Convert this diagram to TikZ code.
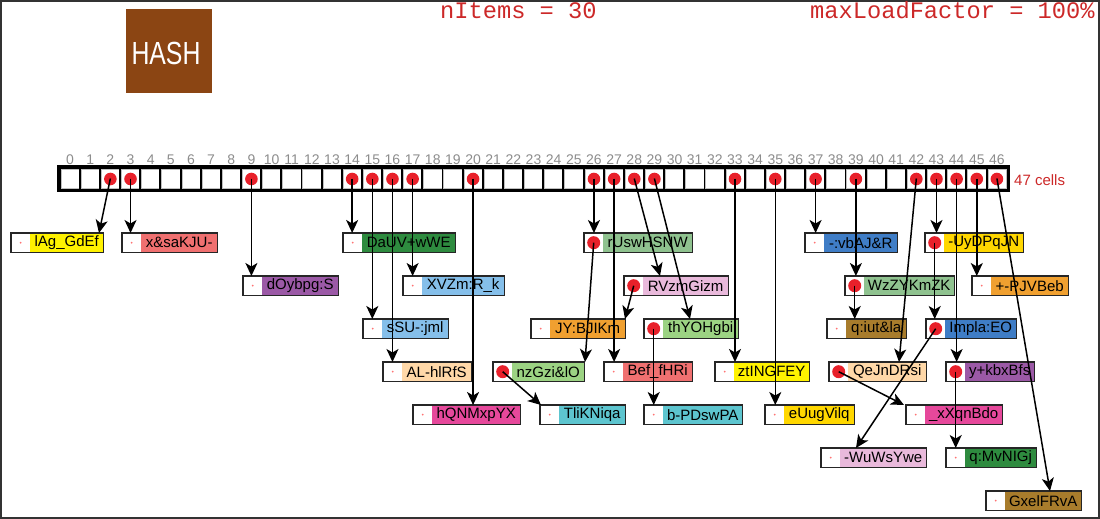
\documentclass[tikz,border=0pt]{standalone}
\usepackage{fontspec}
\setmainfont{Liberation Sans}
\newfontfamily\hdrmono{Liberation Mono}
\usetikzlibrary{arrows.meta,calc}
\definecolor{cYel}{HTML}{FFF200}
\definecolor{cGold}{HTML}{FFD700}
\definecolor{cSalmon}{HTML}{F07070}
\definecolor{cPurple}{HTML}{9B59A6}
\definecolor{cDGreen}{HTML}{2E8B3F}
\definecolor{cLBlue}{HTML}{85BFEA}
\definecolor{cPeach}{HTML}{FFD8A8}
\definecolor{cMagenta}{HTML}{E6489B}
\definecolor{cMGreen}{HTML}{8FC28F}
\definecolor{cLPink}{HTML}{E9B9DB}
\definecolor{cOrange}{HTML}{F0A030}
\definecolor{cLGreen}{HTML}{9CD383}
\definecolor{cCyan}{HTML}{5DC5CF}
\definecolor{cBlue}{HTML}{3F7DC6}
\definecolor{cBrown}{HTML}{A87C2C}
\definecolor{hashBrown}{HTML}{8B4513}
\definecolor{hdrRed}{HTML}{CC2828}
\definecolor{dotRed}{HTML}{E8202A}
\definecolor{idxGrey}{HTML}{8C8C8C}
\tikzset{
  txtpart/.style={inner sep=0pt, minimum height=19pt, anchor=north west, font=\fontsize{15}{15}\selectfont, text=black},
  ptrpart/.style={fill=white, inner sep=0pt, minimum height=19pt, minimum width=19pt, anchor=north west},
  boxline/.style={draw=black!85, line width=1.8pt},
  arr/.style={-{Stealth[length=13pt,width=12pt,inset=3.5pt]}, line width=1.5pt, black},
  cellbox/.style={draw=black, line width=2.5pt, fill=white, minimum width=20.149pt, minimum height=21pt, inner sep=0pt},
  idxlabel/.style={font=\fontsize{14}{14}\selectfont, text=idxGrey, inner sep=0pt},
  hdr/.style={font=\hdrmono\fontsize{23.7}{24}\selectfont, text=hdrRed, inner sep=0pt, anchor=base west},
}
\newcommand\hashitem[7]{%
  \node[ptrpart] (#1p) at (#2,#3) {};
  \pgfmathsetmacro\hiw{#4-#2-19}%
  \node[txtpart, fill=#5, minimum width=\hiw pt] (#1) at (#2+19,#3) {#6};
  \draw[boxline] (#1p.north west) rectangle (#1.south east);
  \ifnum#7=1 \fill[dotRed] (#1p.center) circle (6.5pt);\else\fill[red!55] (#1p.center) circle (1pt);\fi
}
\begin{document}
\begin{tikzpicture}[x=1pt,y=-1pt]
\useasboundingbox (0,0) rectangle (1100,519);
\draw[black!80, line width=2pt] (1,1) rectangle (1099,518);
% header
\node[fill=hashBrown, minimum width=86pt, minimum height=84pt, inner sep=0pt] (hash) at (169,51) {};
\node[text=white, inner sep=0pt] (hashtext) at ($(hash.center)+(-3,2.5)$)
  {\scalebox{0.776}[1]{\fontsize{32}{32}\selectfont HASH}};
\node[hdr] (nitems) at (440,19) {nItems = 30};
\node[hdr] (maxlf) at (810,19) {maxLoadFactor = 100\%};
% array
\foreach \i in {0,...,46} {
  \node[cellbox] (c\i) at ({60+20.149*(\i+0.5)},178.5) {};
  \draw[black!25, line width=0.6pt] ($(c\i.north west)+(2.2,2.2)$) rectangle ($(c\i.south east)+(-2.2,-2.2)$);
  \node[idxlabel] (l\i) at ($(c\i.center)+(0,-18.5)$) {\i};
}
\draw[black, line width=3pt] (c0.north west) rectangle (c46.south east);
\foreach \i in {2,3,9,14,15,16,17,20,26,27,28,29,33,35,37,39,42,43,44,45,46} {
  \fill[dotRed] ($(c\i.center)+(0,0.5)$) circle (6.3pt);
}
\node[anchor=west, text=hdrRed, font=\fontsize{15}{15}\selectfont, inner sep=0pt] (cells) at (1014,180) {47 cells};
% items
\hashitem{n1}{11}{233}{103}{cYel}{lAg\_GdEf}{0}
\hashitem{n2}{122}{233}{217}{cSalmon}{x\&saKJU-}{0}
\hashitem{n3}{243}{276}{338}{cPurple}{dOybpg:S}{0}
\hashitem{n4}{343}{233}{455}{cDGreen}{DaUV+wWE}{0}
\hashitem{n5}{403}{276}{504}{cLBlue}{XVZm:R\_k}{0}
\hashitem{n6}{363}{319}{448}{cLBlue}{sSU-:jml}{0}
\hashitem{n7}{383}{362}{471}{cPeach}{AL-hlRfS}{0}
\hashitem{n8}{413}{405}{520}{cMagenta}{hQNMxpYX}{0}
\hashitem{n9}{584}{233}{692}{cMGreen}{rUswHSNW}{1}
\hashitem{n10}{624}{276}{728}{cLPink}{RVzmGizm}{1}
\hashitem{n11}{531}{319}{625}{cOrange}{JY:BJIKm}{0}
\hashitem{n12}{644}{319}{738}{cLGreen}{thYOHgbi}{1}
\hashitem{n13}{493}{362}{584}{cLGreen}{nzGzi\&lO}{1}
\hashitem{n14}{540}{405}{625}{cCyan}{TliKNiqa}{0}
\hashitem{n15}{604}{362}{692}{cSalmon}{Bef\_fHRi}{0}
\hashitem{n16}{644}{405}{742}{cCyan}{b-PDswPA}{0}
\hashitem{n17}{715}{362}{809}{cYel}{ztINGFEY}{0}
\hashitem{n18}{765}{405}{854}{cGold}{eUugVilq}{0}
\hashitem{n19}{805}{233}{897}{cBlue}{-:vbAJ\&R}{0}
\hashitem{n20}{925}{233}{1023}{cGold}{-UyDPqJN}{1}
\hashitem{n21}{845}{276}{954}{cMGreen}{WzZYKmZK}{1}
\hashitem{n22}{972}{276}{1068}{cOrange}{+-PJVBeb}{0}
\hashitem{n23}{827}{319}{906}{cBrown}{q:iut\&la}{0}
\hashitem{n24}{926}{319}{1016}{cBlue}{Impla:EO}{1}
\hashitem{n25}{829}{362}{926}{cPeach}{QeJnDRsi}{1}
\hashitem{n26}{946}{362}{1034}{cPurple}{y+kbxBfs}{1}
\hashitem{n27}{906}{405}{1002}{cMagenta}{\_xXqnBdo}{0}
\hashitem{n28}{821}{448}{926}{cLPink}{-WuWsYwe}{0}
\hashitem{n29}{946}{448}{1036}{cDGreen}{q:MvNIGj}{0}
\hashitem{n30}{986}{491}{1081}{cBrown}{GxelFRvA}{0}
% connectors from cells
\draw[arr] (c2.center) -- ($(n1p.north west)+(88,0)$);
\draw[arr] (c3.center) -- (c3.center |- n2p.north);
\draw[arr] (c9.center) -- (c9.center |- n3p.north);
\draw[arr] (c14.center) -- (c14.center |- n4p.north);
\draw[arr] (c15.center) -- (c15.center |- n6p.north);
\draw[arr] (c16.center) -- (c16.center |- n7p.north);
\draw[arr] (c17.center) -- (c17.center |- n5p.north);
\draw[arr] (c20.center) -- (c20.center |- n8p.north);
\draw[arr] (c26.center) -- (c26.center |- n9p.north);
\draw[arr] (c27.center) -- (c27.center |- n15p.north);
\draw[arr] (c28.center) -- ($(n10p.north west)+(36,0)$);
\draw[arr] (c29.center) -- ($(n12p.north west)+(46,0)$);
\draw[arr] (c33.center) -- (c33.center |- n17p.north);
\draw[arr] (c35.center) -- (c35.center |- n18p.north);
\draw[arr] (c37.center) -- (c37.center |- n19p.north);
\draw[arr] (c39.center) -- (c39.center |- n21p.north);
\draw[arr] (c42.center) -- ($(n25p.north west)+(70,0)$);
\draw[arr] (c43.center) -- (c43.center |- n20p.north);
\draw[arr] (c44.center) -- (c44.center |- n26p.north);
\draw[arr] (c45.center) -- (c45.center |- n22p.north);
\draw[arr] (c46.center) -- ($(n30p.north west)+(64,0)$);
% chain connectors
\draw[arr] (n9p.center) -- ($(n13p.north west)+(92,0)$);
\draw[arr] (n10p.center) -- ($(n11p.north west)+(94,0)$);
\draw[arr] (n12p.center) -- (n12p.center |- n16p.north);
\draw[arr] (n13p.center) -- ($(n14p.north west)+(1,0)$);
\draw[arr] (n21p.center) -- (n21p.center |- n23p.north);
\draw[arr] (n20p.center) -- (n20p.center |- n24p.north);
\draw[arr] (n24p.center) -- ($(n28p.north west)+(35,0)$);
\draw[arr] (n25p.center) -- ($(n27p.north west)+(-2,0)$);
\draw[arr] (n26p.center) -- (n26p.center |- n29p.north);
\end{tikzpicture}
\end{document}
